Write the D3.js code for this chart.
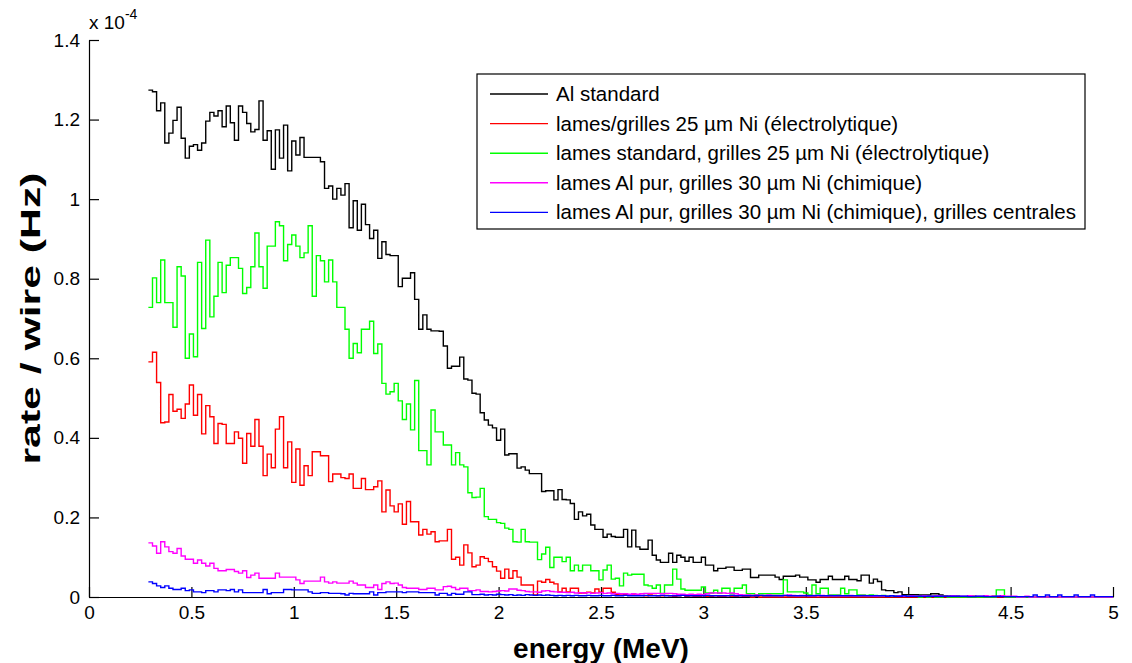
<!DOCTYPE html>
<meta charset="utf-8">

<!-- Load d3.js -->
<script src="https://d3js.org/d3.v7.min.js"></script>

<style>
  body { margin: 0; background: #ffffff; }
  text { font-family: "Liberation Sans", Arial, sans-serif; }
</style>

<svg id="my_dataviz" width="1132" height="663"></svg>

<script>

// histogram bins: 0.02 MeV wide, first one starts at 0.29 MeV
var binStart = 0.29
var binWidth = 0.02

// rate per wire, in units of 1e-4 Hz, one value per bin
var black = [
  1.274, 1.27, 1.222, 1.242, 1.141, 1.166, 1.198, 1.231, 1.153, 1.103,
  1.133, 1.137, 1.123, 1.141, 1.196, 1.218, 1.209, 1.222, 1.182, 1.234,
  1.192, 1.148, 1.234, 1.218, 1.19, 1.169, 1.175, 1.247, 1.148, 1.172,
  1.075, 1.174, 1.103, 1.186, 1.071, 1.146, 1.111, 1.155, 1.105, 1.105,
  1.105, 1.105, 1.094, 1.027, 1.033, 1.0, 1.027, 1.01, 1.039, 0.928,
  0.996, 0.922, 0.987, 0.936, 0.901, 0.922, 0.851, 0.893, 0.861, 0.858,
  0.858, 0.78, 0.801, 0.801, 0.815, 0.748, 0.673, 0.709, 0.673, 0.669,
  0.669, 0.668, 0.631, 0.575, 0.58, 0.58, 0.603, 0.548, 0.545, 0.512,
  0.51, 0.463, 0.445, 0.432, 0.425, 0.394, 0.422, 0.357, 0.36, 0.36,
  0.324, 0.327, 0.319, 0.31, 0.31, 0.31, 0.265, 0.267, 0.267, 0.244,
  0.27, 0.245, 0.244, 0.235, 0.195, 0.214, 0.204, 0.208, 0.181, 0.17,
  0.17, 0.15, 0.158, 0.152, 0.15, 0.15, 0.17, 0.126, 0.168, 0.126,
  0.12, 0.12, 0.143, 0.105, 0.093, 0.087, 0.087, 0.11, 0.087, 0.105,
  0.1, 0.09, 0.1, 0.087, 0.087, 0.1, 0.08, 0.08, 0.066, 0.072,
  0.072, 0.075, 0.075, 0.067, 0.067, 0.07, 0.07, 0.049, 0.049, 0.055,
  0.055, 0.055, 0.055, 0.05, 0.044, 0.052, 0.052, 0.052, 0.055, 0.05,
  0.05, 0.043, 0.043, 0.037, 0.044, 0.044, 0.052, 0.044, 0.044, 0.044,
  0.052, 0.044, 0.044, 0.041, 0.055, 0.055, 0.035, 0.045, 0.039, 0.018,
  0.016, 0.016, 0.011, 0.013, 0.006, 0.006, 0.006, 0.006, 0.005, 0.005,
  0.005, 0.008, 0.008, 0.005, 0.003, 0.002, 0.003, 0.002, 0, 0,
  0, 0.002, 0, 0, 0, 0, 0.002, 0, 0, 0,
  0, 0, 0, 0, 0, 0, 0, 0, 0, 0,
  0, 0, 0, 0, 0, 0, 0, 0, 0, 0,
  0, 0, 0, 0, 0, 0
]

var red = [
  0.591, 0.615, 0.539, 0.438, 0.44, 0.509, 0.467, 0.472, 0.449, 0.485,
  0.533, 0.457, 0.509, 0.41, 0.481, 0.453, 0.386, 0.436, 0.434, 0.386,
  0.386, 0.415, 0.399, 0.336, 0.411, 0.379, 0.446, 0.379, 0.305, 0.359,
  0.325, 0.422, 0.453, 0.325, 0.39, 0.288, 0.372, 0.281, 0.33, 0.305,
  0.365, 0.365, 0.355, 0.355, 0.29, 0.309, 0.309, 0.3, 0.298, 0.309,
  0.273, 0.273, 0.298, 0.27, 0.27, 0.277, 0.292, 0.214, 0.269, 0.229,
  0.214, 0.234, 0.183, 0.24, 0.189, 0.189, 0.156, 0.17, 0.158, 0.164,
  0.139, 0.141, 0.141, 0.17, 0.095, 0.1, 0.08, 0.131, 0.111, 0.076,
  0.08, 0.101, 0.097, 0.089, 0.076, 0.065, 0.047, 0.07, 0.047, 0.066,
  0.05, 0.03, 0.03, 0.03, 0.005, 0.04, 0.037, 0.044, 0.037, 0.033,
  0.013, 0.022, 0.013, 0.022, 0.022, 0.01, 0.01, 0.012, 0.01, 0.02,
  0.012, 0.022, 0.022, 0.012, 0.006, 0.005, 0.006, 0.004, 0.005, 0.004,
  0.004, 0.003, 0.005, 0.004, 0.003, 0.003, 0.004, 0.003, 0.002, 0.003,
  0.004, 0.002, 0.003, 0.002, 0.002, 0.003, 0.002, 0.002, 0.003, 0.002,
  0.002, 0.003, 0.002, 0.002, 0.003, 0.002, 0.002, 0, 0.002, 0,
  0, 0, 0, 0, 0, 0, 0, 0, 0, 0,
  0, 0, 0, 0, 0, 0, 0, 0, 0, 0,
  0, 0, 0, 0, 0, 0, 0, 0, 0, 0,
  0, 0, 0, 0, 0, 0, 0, 0, 0, 0,
  0, 0, 0, 0, 0, 0, 0, 0, 0, 0,
  0, 0, 0, 0, 0, 0, 0, 0, 0, 0,
  0, 0, 0, 0, 0, 0, 0, 0, 0, 0,
  0, 0, 0, 0, 0, 0, 0, 0, 0, 0,
  0, 0, 0, 0, 0, 0
]

var green = [
  0.728, 0.802, 0.74, 0.847, 0.74, 0.74, 0.678, 0.83, 0.807, 0.6,
  0.661, 0.604, 0.841, 0.675, 0.897, 0.704, 0.756, 0.841, 0.765, 0.834,
  0.853, 0.853, 0.826, 0.763, 0.778, 0.83, 0.915, 0.83, 0.776, 0.882,
  0.882, 0.943, 0.933, 0.845, 0.886, 0.91, 0.882, 0.853, 0.865, 0.933,
  0.756, 0.858, 0.845, 0.792, 0.847, 0.792, 0.728, 0.728, 0.673, 0.6,
  0.637, 0.614, 0.673, 0.673, 0.693, 0.612, 0.636, 0.537, 0.51, 0.516,
  0.537, 0.493, 0.446, 0.485, 0.42, 0.544, 0.368, 0.368, 0.332, 0.47,
  0.415, 0.415, 0.382, 0.382, 0.332, 0.363, 0.332, 0.327, 0.262, 0.25,
  0.251, 0.273, 0.202, 0.195, 0.195, 0.187, 0.185, 0.173, 0.17, 0.139,
  0.138, 0.17, 0.139, 0.138, 0.138, 0.094, 0.108, 0.125, 0.074, 0.1,
  0.1, 0.089, 0.1, 0.066, 0.08, 0.066, 0.08, 0.08, 0.066, 0.066,
  0.043, 0.068, 0.08, 0.045, 0.047, 0.028, 0.06, 0.055, 0.057, 0.057,
  0.057, 0.03, 0.028, 0.022, 0.03, 0.009, 0.03, 0.03, 0.07, 0.045,
  0.02, 0.017, 0.017, 0.017, 0.017, 0.025, 0.01, 0.01, 0.017, 0.009,
  0.022, 0.022, 0.008, 0.022, 0.022, 0.03, 0.008, 0.008, 0.006, 0.008,
  0.008, 0.008, 0.008, 0.008, 0.008, 0.043, 0.013, 0.013, 0.013, 0.013,
  0.01, 0.005, 0.03, 0.008, 0.022, 0.022, 0.005, 0.005, 0.005, 0.022,
  0.008, 0.018, 0.018, 0.005, 0.005, 0.004, 0.005, 0.004, 0.003, 0.004,
  0.003, 0.002, 0.003, 0.002, 0.002, 0.003, 0.002, 0.002, 0, 0.002,
  0, 0.002, 0, 0, 0.002, 0, 0, 0, 0, 0,
  0, 0, 0, 0, 0, 0, 0, 0.018, 0.018, 0,
  0, 0, 0, 0, 0, 0, 0, 0, 0, 0,
  0, 0, 0, 0, 0, 0, 0, 0, 0, 0,
  0, 0, 0, 0, 0, 0
]

var magenta = [
  0.136, 0.128, 0.11, 0.139, 0.126, 0.114, 0.11, 0.122, 0.103, 0.095,
  0.095, 0.085, 0.093, 0.085, 0.078, 0.085, 0.072, 0.066, 0.066, 0.069,
  0.069, 0.064, 0.06, 0.066, 0.049, 0.055, 0.06, 0.047, 0.047, 0.047,
  0.047, 0.06, 0.05, 0.05, 0.05, 0.05, 0.043, 0.034, 0.04, 0.04,
  0.04, 0.04, 0.05, 0.038, 0.035, 0.038, 0.035, 0.035, 0.035, 0.04,
  0.035, 0.03, 0.03, 0.024, 0.024, 0.03, 0.019, 0.034, 0.038, 0.034,
  0.035, 0.03, 0.024, 0.022, 0.022, 0.022, 0.019, 0.019, 0.022, 0.022,
  0.018, 0.018, 0.026, 0.027, 0.024, 0.019, 0.022, 0.022, 0.016, 0.016,
  0.018, 0.014, 0.014, 0.013, 0.014, 0.015, 0.016, 0.015, 0.02, 0.02,
  0.017, 0.016, 0.014, 0.013, 0.013, 0.012, 0.015, 0.016, 0.014, 0.013,
  0.012, 0.012, 0.011, 0.012, 0.01, 0.011, 0.01, 0.011, 0.009, 0.01,
  0.011, 0.009, 0.01, 0.008, 0.009, 0.008, 0.008, 0.007, 0.008, 0.007,
  0.008, 0.009, 0.009, 0.009, 0.009, 0.008, 0.009, 0.009, 0.008, 0.007,
  0.007, 0.006, 0.007, 0.006, 0.007, 0.006, 0.008, 0.01, 0.01, 0.01,
  0.01, 0.009, 0.01, 0.008, 0.006, 0.005, 0.005, 0.004, 0.005, 0.004,
  0.004, 0.005, 0.004, 0.004, 0.003, 0.004, 0.005, 0.004, 0.003, 0.004,
  0.004, 0.003, 0.004, 0.003, 0.004, 0.003, 0.004, 0.003, 0.004, 0.003,
  0.003, 0.004, 0.003, 0.003, 0.004, 0.003, 0.003, 0.002, 0.003, 0.003,
  0.002, 0.003, 0.002, 0.003, 0.002, 0.002, 0.003, 0.002, 0.002, 0.003,
  0.002, 0.002, 0.003, 0.002, 0.002, 0.002, 0.003, 0.002, 0.002, 0.002,
  0.003, 0.002, 0.002, 0.002, 0.003, 0.002, 0.002, 0.002, 0.003, 0.002,
  0.002, 0.002, 0, 0, 0.002, 0, 0, 0, 0, 0,
  0, 0, 0, 0, 0, 0, 0, 0, 0, 0,
  0, 0, 0, 0, 0, 0
]

var blue = [
  0.038, 0.034, 0.028, 0.024, 0.028, 0.022, 0.019, 0.019, 0.022, 0.016,
  0.018, 0.013, 0.013, 0.011, 0.016, 0.016, 0.013, 0.018, 0.018, 0.016,
  0.019, 0.013, 0.018, 0.011, 0.011, 0.011, 0.011, 0.011, 0.019, 0.008,
  0.011, 0.011, 0.011, 0.019, 0.019, 0.018, 0.018, 0.018, 0.018, 0.013,
  0.009, 0.009, 0.011, 0.011, 0.009, 0.009, 0.009, 0.008, 0.005, 0.009,
  0.008, 0.008, 0.008, 0.008, 0.013, 0.005, 0.011, 0.011, 0.013, 0.013,
  0.013, 0.013, 0.011, 0.013, 0.013, 0.013, 0.011, 0.011, 0.011, 0.011,
  0.005, 0.009, 0.009, 0.005, 0.009, 0.007, 0.007, 0.013, 0.013, 0.006,
  0.006, 0.007, 0.005, 0.006, 0.005, 0.007, 0.006, 0.005, 0.006, 0.004,
  0.005, 0.004, 0.006, 0.005, 0.004, 0.005, 0.004, 0.005, 0.004, 0.003,
  0.004, 0.003, 0.004, 0.003, 0.004, 0.003, 0.003, 0.004, 0.003, 0.003,
  0.004, 0.003, 0.003, 0.004, 0.003, 0.003, 0.004, 0.003, 0.003, 0.003,
  0.003, 0.004, 0.003, 0.003, 0.003, 0.004, 0.003, 0.003, 0.003, 0.003,
  0.004, 0.003, 0.003, 0.003, 0.003, 0.003, 0.004, 0.003, 0.003, 0.003,
  0.003, 0.003, 0.004, 0.003, 0.003, 0.003, 0.003, 0.003, 0.003, 0.004,
  0.003, 0.003, 0.003, 0.003, 0.003, 0.004, 0.003, 0.003, 0.003, 0.003,
  0.003, 0.003, 0.003, 0.004, 0.003, 0.003, 0.003, 0.003, 0.003, 0.003,
  0.003, 0.003, 0.003, 0.003, 0.003, 0.003, 0.003, 0.003, 0.003, 0.003,
  0.002, 0.003, 0.002, 0.002, 0.003, 0.002, 0.002, 0.002, 0.002, 0.002,
  0.002, 0.002, 0.002, 0.002, 0.002, 0.002, 0.002, 0.002, 0.002, 0.002,
  0.001, 0.001, 0.002, 0.002, 0.001, 0.001, 0.001, 0.002, 0.001, 0.001,
  0.001, 0.001, 0.001, 0.001, 0.001, 0.001, 0.005, 0.001, 0.001, 0.005,
  0.001, 0.001, 0.005, 0.001, 0.001, 0.001, 0.005, 0.001, 0.001, 0.001,
  0.005, 0.001, 0.001, 0.001, 0.001, 0.001
]

var seriesNames = [
  "Al standard",
  "lames/grilles 25 \u00b5m Ni (\u00e9lectrolytique)",
  "lames standard, grilles 25 \u00b5m Ni (\u00e9lectrolytique)",
  "lames Al pur, grilles 30 \u00b5m Ni (chimique)",
  "lames Al pur, grilles 30 \u00b5m Ni (chimique), grilles centrales"
]
var seriesColors = ["#000000", "#ff0000", "#00ff00", "#ff00ff", "#0000ff"]
var seriesValues = [black, red, green, magenta, blue]

var xTicks = [0, 0.5, 1, 1.5, 2, 2.5, 3, 3.5, 4, 4.5, 5]
var yTicks = [0, 0.2, 0.4, 0.6, 0.8, 1, 1.2, 1.4]

// The svg
var svg = d3.select("#my_dataviz")
var plotLeft = 89, plotRight = 1113, plotTop = 40, plotBottom = 597

var x = d3.scaleLinear().domain([0, 5]).range([plotLeft, plotRight])
var y = d3.scaleLinear().domain([0, 1.4]).range([plotBottom, plotTop])

svg.append("rect")
  .attr("width", 1132).attr("height", 663)
  .attr("fill", "#ffffff")

// axes, ticks pointing inward like matlab
svg.append("g")
  .attr("transform", "translate(0," + plotBottom + ")")
  .call(d3.axisBottom(x).tickValues(xTicks).tickFormat(d3.format("~g"))
    .tickSizeInner(-10).tickSizeOuter(0).tickPadding(9))
svg.append("g")
  .attr("transform", "translate(" + plotLeft + ",0)")
  .call(d3.axisLeft(y).tickValues(yTicks).tickFormat(d3.format("~g"))
    .tickSizeInner(-10).tickSizeOuter(0).tickPadding(9))

svg.selectAll(".domain, .tick line").attr("stroke", "#000").attr("stroke-width", 1.2)
svg.selectAll(".tick text")
  .attr("fill", "#000")
  .style("font-size", "19px")
  .style("font-family", "'Liberation Sans', Arial, sans-serif")

// exponent label
svg.append("text")
  .attr("x", plotLeft)
  .attr("y", 29)
  .style("font-size", "19px")
  .text("x 10")
  .append("tspan")
    .attr("dy", -10)
    .style("font-size", "14px")
    .text("-4")

// step lines for each series
var line = d3.line()
  .x(function(d){ return x(d[0]) })
  .y(function(d){ return y(d[1]) })
  .curve(d3.curveStepAfter)

seriesValues.forEach(function(vals, k){
  var pts = vals.map(function(v, i){ return [binStart + i * binWidth, v] })
  var xEnd = Math.min(binStart + vals.length * binWidth, 5)
  pts.push([xEnd, vals[vals.length - 1]])
  svg.append("path")
    .datum(pts)
    .attr("d", line)
    .attr("fill", "none")
    .attr("stroke", seriesColors[k])
    .attr("stroke-width", 1.4)
})

// axis titles
svg.append("text")
  .attr("x", (plotLeft + plotRight) / 2)
  .attr("y", 658)
  .attr("text-anchor", "middle")
  .style("font-size", "28px")
  .style("font-weight", "bold")
  .text("energy (MeV)")

// the y title is drawn stretched along its length, as in the original figure
svg.append("text")
  .attr("transform", "translate(40," + ((plotTop + plotBottom) / 2) + ") rotate(-90)")
  .attr("text-anchor", "middle")
  .attr("textLength", 292)
  .attr("lengthAdjust", "spacingAndGlyphs")
  .style("font-size", "28px")
  .style("font-weight", "bold")
  .text("rate / wire (Hz)")

// legend
var legX = 477, legY = 74, legW = 608, legH = 155, rowH = 29.6
svg.append("rect")
  .attr("x", legX).attr("y", legY)
  .attr("width", legW).attr("height", legH)
  .attr("fill", "#fff")
  .attr("stroke", "#000")
  .attr("stroke-width", 1.2)

var legend = svg.selectAll("legendRow")
  .data(seriesNames)
  .enter()
  .append("g")
    .attr("transform", function(d, i){ return "translate(" + legX + "," + (legY + 20 + i * rowH) + ")" })

legend.append("line")
  .attr("x1", 13).attr("x2", 71)
  .attr("stroke", function(d, i){ return seriesColors[i] })
  .attr("stroke-width", 1.4)

legend.append("text")
  .attr("x", 79)
  .attr("y", 7)
  .style("font-size", "20.5px")
  .text(function(d){ return d })

</script>
